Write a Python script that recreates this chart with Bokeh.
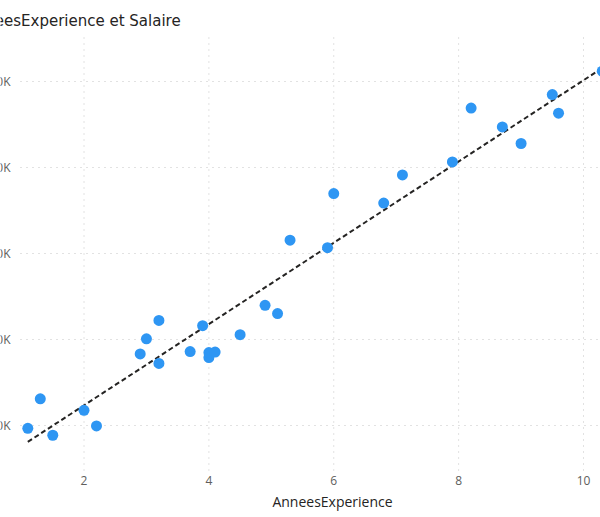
import numpy as np
from bokeh.plotting import figure
from bokeh.models import Range1d
from bokeh.core.properties import value
from bokeh.embed import file_html
from bokeh.resources import INLINE

# Years of experience vs salary
annees_experience = [1.1, 1.3, 1.5, 2.0, 2.2, 2.9, 3.0, 3.2, 3.2, 3.7,
                     3.9, 4.0, 4.0, 4.1, 4.5, 4.9, 5.1, 5.3, 5.9, 6.0,
                     6.8, 7.1, 7.9, 8.2, 8.7, 9.0, 9.5, 9.6, 10.3, 10.5]
salaire = [39343, 46205, 37731, 43525, 39891, 56642, 60150, 54445, 64445, 57189,
           63218, 55794, 56957, 57081, 61111, 67938, 66029, 83088, 81363, 93940,
           91738, 98273, 101302, 113812, 109431, 105582, 116969, 112635, 122391, 121872]

x_ticks = [2, 4, 6, 8, 10]
x_tick_labels = ["2", "4", "6", "8", "10"]
y_ticks = [40000, 60000, 80000, 100000, 120000]
y_tick_labels = ["40K", "60K", "80K", "100K", "120K"]
title_text = "AnneesExperience et Salaire"
x_title = "AnneesExperience"

W, H = 600, 517
# plot area inside the canvas (pixels) and its data extent
AREA_L, AREA_T, AREA_B = 20, 37, 470
x_start, x_end = 0.983, 10.272
y_start, y_end = 29535, 130233

ppx = (W - AREA_L) / (x_end - x_start)   # pixels per x unit
ppy = (AREA_B - AREA_T) / (y_end - y_start)   # pixels per y unit

def px_to_x(px):
    return x_start + (px - AREA_L) / ppx

def px_to_y(py):
    return y_end - (py - AREA_T) / ppy

TEXT_DARK = "#252423"
TEXT_GREY = "#605e5c"
FONT = "Open Sans"
TITLE_FONT = "DejaVu Sans"
GRID = "#c4c4c4"

p = figure(width=W, height=H,
           x_range=Range1d(px_to_x(0), px_to_x(W)),
           y_range=Range1d(px_to_y(H), px_to_y(0)),
           x_axis_location=None, y_axis_location=None,
           toolbar_location=None, output_backend="svg",
           min_border=0)
p.outline_line_color = None
p.background_fill_color = "white"
p.border_fill_color = "white"
p.xgrid.visible = False
p.ygrid.visible = False

# dotted grid lines over the plot area
p.segment(x0=x_ticks, y0=[y_start] * len(x_ticks), x1=x_ticks, y1=[y_end] * len(x_ticks),
          line_color=GRID, line_width=1, line_dash="1 5")
p.segment(x0=[x_start] * len(y_ticks), y0=y_ticks, x1=[x_end] * len(y_ticks), y1=y_ticks,
          line_color=GRID, line_width=1, line_dash="1 5")

# tick labels
p.text(x=x_ticks, y=[px_to_y(480)] * len(x_ticks), text=x_tick_labels,
       text_align="center", text_baseline="middle", text_font=value(FONT),
       text_font_size="12px", text_color=TEXT_GREY)
p.text(x=[px_to_x(10)] * len(y_ticks), y=y_ticks, text=y_tick_labels,
       text_align="right", text_baseline="middle", text_font=value(FONT),
       text_font_size="12px", text_color=TEXT_GREY)

# linear trend line over the data range
xs = np.array(annees_experience)
ys = np.array(salaire)
slope, intercept = np.polyfit(xs, ys, 1)
tx = np.array([xs.min(), xs.max()])
p.line(tx, slope * tx + intercept, line_color=TEXT_DARK, line_width=2,
       line_dash="5 3")

# points
p.scatter(annees_experience, salaire, size=11, fill_color="#2E96F3",
          line_color=None)

# axis title and chart title
p.text(x=[px_to_x(332)], y=[px_to_y(501)], text=[x_title],
       text_align="center", text_baseline="middle", text_font=value(FONT),
       text_font_size="14px", text_color=TEXT_DARK)
p.text(x=[px_to_x(-35)], y=[px_to_y(20)], text=[title_text],
       text_align="left", text_baseline="alphabetic", text_font=value(TITLE_FONT),
       text_font_size="15px", text_color=TEXT_DARK)

open("out.html", "w").write(file_html(p, INLINE))
